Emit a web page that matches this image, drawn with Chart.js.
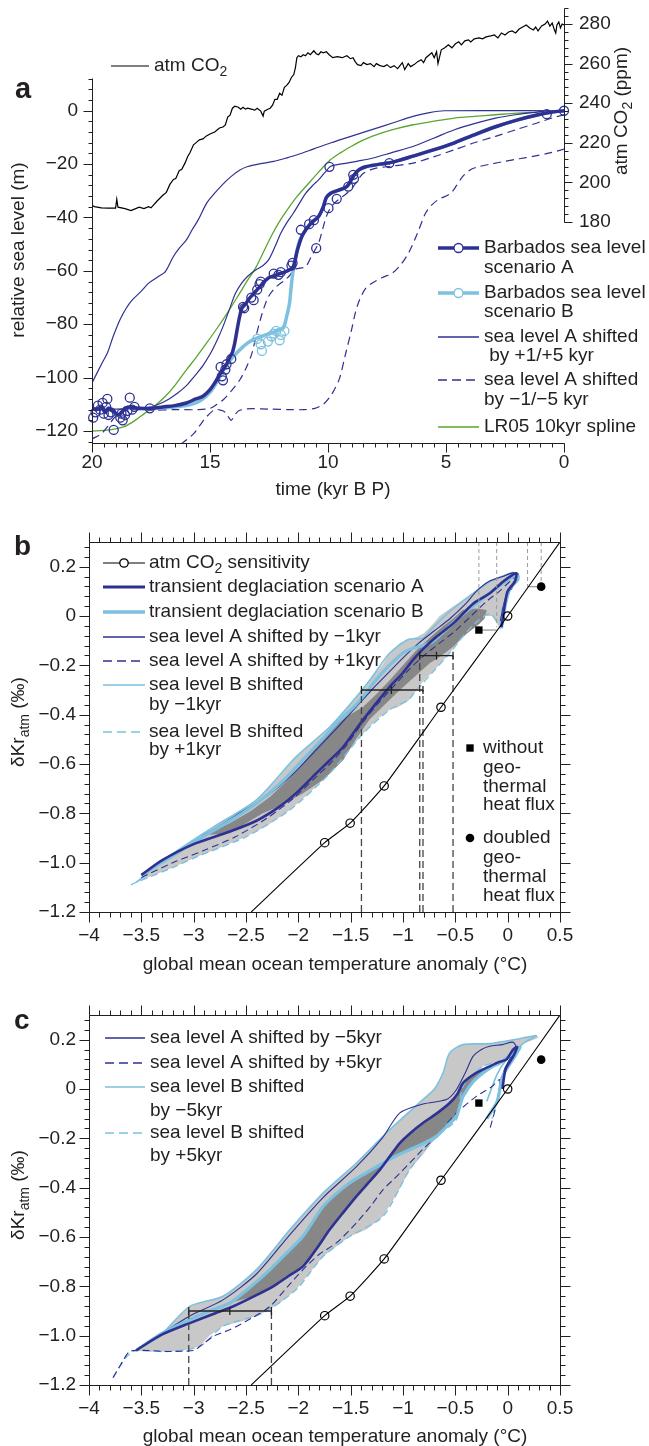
<!DOCTYPE html>
<html>
<head>
<meta charset="utf-8">
<script src="https://cdn.jsdelivr.net/npm/chart.js@4.4.1/dist/chart.umd.min.js"></script>
<style>
  html, body { margin: 0; padding: 0; background: #fff; }
  body { width: 649px; height: 1446px; position: relative; overflow: hidden; }
  canvas { position: absolute; left: 0; }
</style>
</head>
<body>
<canvas id="panelA" width="649" height="505" style="top:0px"></canvas>
<canvas id="panelB" width="649" height="470" style="top:505px"></canvas>
<canvas id="panelC" width="649" height="471" style="top:975px"></canvas>
<script>
// ---- tick values / labels ----
const timeTicks = [0, 5, 10, 15, 20];
const timeTickLabels = ['0', '5', '10', '15', '20'];
const seaTicks = [-120, -100, -80, -60, -40, -20, 0];
const seaTickLabels = ['−120', '−100', '−80', '−60', '−40', '−20', '0'];
const co2Ticks = [180, 200, 220, 240, 260, 280];
const co2TickLabels = ['180', '200', '220', '240', '260', '280'];
const tempTicks = [-4, -3.5, -3, -2.5, -2, -1.5, -1, -0.5, 0, 0.5];
const tempTickLabels = ['−4', '−3.5', '−3', '−2.5', '−2', '−1.5', '−1', '−0.5', '0', '0.5'];
const krTicks = [-1.2, -1.0, -0.8, -0.6, -0.4, -0.2, 0, 0.2];
const krTickLabels = ['−1.2', '−1.0', '−0.8', '−0.6', '−0.4', '−0.2', '0', '0.2'];

// ---- panel a: [kyr BP, value] ----
const co2Record = [[20,188.5],[19.9,187.8],[19.6,187.2],[19.3,187],[19.0,187],[18.95,191.5],[18.9,187.5],[18.6,186.8],[18.35,185.8],[18.2,186.5],[18.0,187.5],[17.8,186.8],[17.6,187.8],[17.5,187.2],[17.25,190.5],[17.0,193.5],[16.85,195],[16.7,199],[16.55,201.5],[16.45,202],[16.3,206],[16.2,206.5],[16.05,210],[15.95,213],[15.85,215],[15.7,219],[15.6,220],[15.45,221.5],[15.3,222],[15.15,223.5],[15.0,224.5],[14.8,225.5],[14.6,227.5],[14.45,228],[14.35,229],[14.25,233],[14.15,234],[14.05,237.5],[13.95,238.5],[13.8,238],[13.7,237],[13.6,238],[13.5,237],[13.4,237.5],[13.25,237],[13.1,236.5],[13.0,237.5],[12.85,236],[12.75,233.5],[12.7,236],[12.55,237],[12.45,237.5],[12.35,239],[12.25,242],[12.15,242],[12.05,245],[11.95,244],[11.85,248],[11.75,249],[11.65,250.5],[11.55,253],[11.45,254.5],[11.38,258],[11.32,263],[11.25,264],[11.15,263.5],[11.05,264.5],[10.95,264],[10.85,265.5],[10.75,264.5],[10.6,266.5],[10.5,265],[10.4,264.5],[10.3,266],[10.2,265.5],[10.07,266],[9.95,264.5],[9.8,263],[9.6,263.5],[9.4,263],[9.2,264],[9.05,262.5],[8.94,263],[8.85,261],[8.75,259.5],[8.6,259],[8.5,260.5],[8.35,259.5],[8.2,260],[8.05,258.5],[7.95,260],[7.8,259],[7.63,258.5],[7.5,259.5],[7.35,258],[7.2,259],[7.05,257.5],[6.95,259],[6.85,260.5],[6.75,257],[6.6,260],[6.5,258.5],[6.35,259.5],[6.2,261],[6.05,262],[5.95,260.5],[5.85,263],[5.7,264.5],[5.6,265.5],[5.5,263],[5.4,266],[5.34,260],[5.2,267],[5.05,268],[4.9,269.5],[4.75,268],[4.6,270],[4.46,271],[4.35,269.5],[4.2,271.5],[4.05,272],[3.95,271],[3.8,272.5],[3.6,273],[3.45,272.5],[3.3,273.5],[3.1,274],[2.95,274.5],[2.8,273],[2.65,275.5],[2.5,274.5],[2.35,276],[2.2,276.5],[2.05,275.5],[1.9,277.5],[1.75,278.5],[1.6,279.5],[1.45,278],[1.3,277],[1.2,278.5],[1.1,276.5],[0.95,279],[0.8,280],[0.7,281.5],[0.6,279],[0.5,280.5],[0.42,277.5],[0.35,275.5],[0.3,279.5],[0.22,281],[0.15,278],[0.08,280],[0.0,279.5]];

const seaLevelA = [[20,-111.5],[19.8,-112],[19.6,-111],[19.45,-113],[19.3,-111.5],[19.1,-112.5],[18.9,-114],[18.75,-113],[18.6,-111.5],[18.4,-111],[18,-111.5],[17.5,-111.5],[17,-111],[16.5,-110.5],[16,-109.5],[15.6,-108],[15.3,-107],[15,-104.5],[14.8,-102],[14.6,-99],[14.45,-97],[14.3,-95],[14.18,-92.7],[14.05,-90.5],[13.95,-87],[13.85,-82],[13.74,-77],[13.65,-74],[13.5,-72.5],[13.35,-70.5],[13.2,-69],[13,-67],[12.85,-65.5],[12.7,-64],[12.5,-62.5],[12.34,-62],[12.1,-61.2],[11.85,-60.5],[11.63,-59.6],[11.47,-58.4],[11.29,-52],[11.1,-47],[10.94,-44.6],[10.7,-42],[10.4,-39.6],[10.2,-36],[10.07,-32.5],[9.9,-31],[9.72,-30.3],[9.4,-29.3],[9.2,-28.4],[9.05,-26.5],[8.93,-24.6],[8.8,-23],[8.67,-22],[8.4,-21],[8.14,-20.5],[7.8,-20],[7.44,-19.6],[7,-18.6],[6.4,-17],[5.5,-14.6],[4.64,-12],[3.8,-9],[2.9,-6],[2,-3.5],[1.14,-1.6],[0.5,-0.5],[0,0]];

const seaLevelB = [[20,-111.5],[19.8,-112],[19.6,-111],[19.45,-113],[19.3,-111.5],[19.1,-112.5],[18.9,-114],[18.75,-113],[18.6,-111.5],[18.4,-111],[18,-111.5],[17.5,-111.5],[17,-111.3],[16.5,-111],[16,-110.5],[15.6,-109.5],[15.3,-108],[15,-105.5],[14.8,-103],[14.6,-100],[14.45,-97.5],[14.3,-95.5],[14.1,-93],[13.9,-91],[13.74,-89.6],[13.4,-87],[13.1,-85.5],[12.8,-84.5],[12.5,-83.5],[12.31,-83],[12.1,-82],[11.9,-81.5],[11.75,-77],[11.63,-72],[11.55,-65],[11.47,-59.6],[11.35,-54],[11.2,-48.5],[11,-45.5],[10.94,-44.6],[10.7,-42],[10.4,-39.6],[10.2,-36],[10.07,-32.5],[9.9,-31],[9.72,-30.3],[9.4,-29.3],[9.2,-28.4],[9.05,-26.5],[8.93,-24.6],[8.8,-23],[8.67,-22],[8.4,-21],[8.14,-20.5],[7.8,-20],[7.44,-19.6],[7,-18.6],[6.4,-17],[5.5,-14.6],[4.64,-12],[3.8,-9],[2.9,-6],[2,-3.5],[1.14,-1.6],[0.5,-0.5],[0,0]];

const barbadosA = [[19.95,-115],[19.85,-113],[19.75,-110.5],[19.65,-112],[19.55,-109.5],[19.5,-113.5],[19.4,-111],[19.35,-108],[19.3,-114],[19.2,-113],[19.08,-119.6],[18.8,-115],[18.75,-113.5],[18.7,-116],[18.6,-114],[18.5,-112.5],[18.4,-107.5],[18.3,-112],[18.2,-111],[17.55,-111.5],[14.55,-96],[14.5,-99.5],[14.45,-101],[14.35,-97],[14.3,-95],[14.1,-93],[13.6,-73.5],[13.55,-74],[13.25,-70],[13.15,-71],[13.0,-67],[12.9,-65],[12.85,-64],[12.3,-61],[12.1,-61.5],[12.0,-60.5],[11.55,-58],[11.5,-57],[11.15,-44.6],[10.8,-42.5],[10.6,-41],[10.5,-51.5],[9.98,-36.5],[9.63,-33],[9.94,-21],[9.14,-28.4],[8.93,-24],[8.9,-25.5],[7.4,-19.6],[0.73,-1.3],[0.0,0]];
const barbadosB = [[13.0,-85.5],[12.85,-87.5],[12.8,-90],[12.55,-86.5],[12.4,-84.5],[12.3,-83.5],[12.2,-82.5],[12.05,-86],[12.0,-84],[11.85,-82.5]];

const shiftPlus5 = [[20,-102],[19.6,-95],[19.35,-90.8],[19.1,-84.5],[18.82,-78.4],[18.55,-74],[18.3,-71],[17.9,-67.5],[17.6,-64.6],[17.2,-62.2],[16.9,-60.4],[16.55,-54.6],[16.3,-51.5],[16.0,-48.4],[15.75,-44.5],[15.5,-40.9],[15.14,-34.6],[14.8,-30.9],[14.45,-27.5],[14.1,-24.6],[13.75,-22.3],[13.4,-20.9],[12.9,-19.9],[12.3,-19],[11.8,-17.8],[11.3,-16.5],[10.6,-14.3],[9.9,-12.1],[9.0,-9.5],[8.14,-7.1],[7.2,-4.4],[6.4,-2.1],[5.7,-0.7],[5.08,0],[0,0]];
const shiftPlus1 = [[20,-112],[18,-111.5],[17.5,-111],[17.08,-109.6],[16.7,-107.8],[16.37,-105.8],[16.0,-103],[15.67,-99.6],[15.3,-95.5],[14.97,-90.8],[14.7,-86],[14.45,-80.9],[14.2,-75],[13.92,-68.4],[13.65,-64.5],[13.4,-62],[13.05,-59.6],[12.75,-58],[12.52,-55.9],[12.25,-51],[12.0,-45.9],[11.75,-42],[11.47,-38.4],[11.2,-34.5],[10.94,-30.9],[10.65,-28],[10.4,-25.9],[10.15,-23.3],[9.9,-20.9],[9.6,-20.2],[9.2,-19.6],[8.7,-18.8],[8.14,-17.8],[7.3,-15.7],[6.4,-13.4],[5.5,-10.2],[4.64,-7.1],[3.8,-4.8],[2.9,-2.75],[2.0,-1.4],[1.14,-0.5],[0.6,0],[0,0]];
const shiftMinus1 = [[20,-123],[19.6,-121],[19.35,-118.5],[19.1,-115.5],[18.8,-113],[18.4,-112],[17.5,-112.2],[16.5,-112],[15.5,-112],[15.0,-111.5],[14.7,-110],[14.45,-108.4],[14.1,-105],[13.74,-100.9],[13.45,-96],[13.22,-90.8],[13.05,-84.5],[12.87,-78.4],[12.7,-73.5],[12.52,-69.6],[12.2,-66],[11.82,-63.4],[11.6,-61.5],[11.47,-59.6],[11.2,-59],[10.94,-58.4],[10.7,-54.5],[10.4,-49.6],[10.2,-43.5],[10.07,-39.6],[9.9,-36.5],[9.72,-34.6],[9.45,-32.6],[9.2,-30.9],[8.93,-28.4],[8.7,-25.5],[8.5,-23.4],[8.0,-21.6],[7.44,-20.9],[6.4,-19.6],[5.5,-17.2],[4.64,-14.6],[3.8,-12],[2.9,-9.6],[2.0,-7],[1.14,-4.6],[0.5,-2.7],[0,-1.5]];
const shiftMinus5 = [[16.25,-125],[15.95,-123],[15.67,-120.8],[15.4,-117.5],[15.14,-114.6],[14.8,-112],[14.55,-112.2],[14.35,-113],[14.2,-115],[14.1,-116],[13.95,-114],[13.8,-112.5],[13.5,-111.8],[13.2,-111.6],[12.5,-111.8],[11.6,-112],[11.0,-112],[10.55,-111.5],[10.2,-110],[9.9,-107],[9.7,-104],[9.5,-100],[9.28,-92],[9.0,-82],[8.85,-76],[8.67,-71],[8.4,-66.5],[8.14,-64.6],[7.7,-62.5],[7.27,-60.8],[6.9,-57.5],[6.57,-53],[6.21,-45.9],[5.87,-38.4],[5.6,-35.3],[5.34,-33.4],[4.8,-30.9],[4.55,-28],[4.29,-24.6],[3.95,-22],[3.59,-20.9],[3.0,-19.8],[2.54,-19],[1.9,-18],[1.31,-17.1],[0.6,-15.8],[0,-14.4]];
const lr05Spline = [[20,-120],[19.5,-119.8],[19,-119.2],[18.64,-118.4],[18.2,-116.2],[17.77,-113.4],[17.3,-110.3],[16.9,-107.1],[16.45,-102.5],[16.0,-97.1],[15.57,-92.2],[15.14,-87],[14.7,-81.5],[14.27,-75.8],[13.84,-69.8],[13.4,-63.4],[13.05,-58.6],[12.7,-52.3],[12.34,-45.9],[12.0,-40.7],[11.63,-35.9],[11.3,-32],[10.94,-28.4],[10.4,-23],[9.9,-18.4],[9.46,-15.7],[9.02,-13.4],[8.58,-11.3],[8.14,-9.6],[7.3,-7.2],[6.4,-5.25],[5.5,-3.9],[4.64,-2.75],[3.8,-2.1],[2.9,-1.5],[2.0,-0.9],[1.14,-0.5],[0.5,-0.2],[0,0]];

// ---- panels b, c: [temperature anomaly °C, dKr permil] ----
const co2Sensitivity = [[-2.45,-1.2],[-1.748,-0.919],[-1.505,-0.84],[-1.18,-0.689],[-0.637,-0.37],[0,0],[0.5,0.3]];
const co2SensitivityMarked = [0, 1, 1, 1, 1, 1, 0];
const noGeothermal = [[-0.275,-0.057]];
const doubledGeothermal = [[0.32,0.119]];

const bEnvelope = [[-3.55,-1.08],[-3.45,-1.04],[-3.29,-0.99],[-3.05,-0.92],[-2.81,-0.855],[-2.6,-0.8],[-2.4,-0.745],[-2.2,-0.66],[-2.02,-0.57],[-1.85,-0.505],[-1.7,-0.45],[-1.55,-0.38],[-1.45,-0.33],[-1.38,-0.3],[-1.3,-0.25],[-1.2,-0.2],[-1.127,-0.15],[-1.03,-0.11],[-0.95,-0.095],[-0.87,-0.085],[-0.8,-0.07],[-0.72,-0.035],[-0.65,0],[-0.55,0.03],[-0.43,0.065],[-0.3,0.105],[-0.17,0.146],[-0.05,0.165],[0.05,0.18],[0.1,0.175],[0.12,0.16],[0.06,0.13],[0,0.1],[-0.03,0.05],[-0.05,-0.01],[-0.07,-0.055],[-0.09,-0.04],[-0.15,0],[-0.22,0],[-0.3,-0.025],[-0.43,-0.084],[-0.554,-0.151],[-0.7,-0.22],[-0.8,-0.26],[-0.87,-0.3],[-0.95,-0.345],[-1.05,-0.37],[-1.127,-0.38],[-1.25,-0.42],[-1.38,-0.476],[-1.55,-0.56],[-1.7,-0.638],[-1.9,-0.72],[-2.08,-0.786],[-2.3,-0.85],[-2.5,-0.895],[-2.75,-0.94],[-2.97,-0.976],[-3.2,-1.02],[-3.42,-1.057],[-3.55,-1.08]];
const bInner = [[-2.95,-0.89],[-2.655,-0.84],[-2.45,-0.79],[-2.27,-0.733],[-2.1,-0.665],[-1.955,-0.597],[-1.82,-0.525],[-1.7,-0.462],[-1.55,-0.41],[-1.38,-0.368],[-1.25,-0.315],[-1.127,-0.26],[-1.0,-0.2],[-0.87,-0.138],[-0.75,-0.09],[-0.62,-0.043],[-0.52,-0.01],[-0.43,0.024],[-0.3,0.03],[-0.2,0.024],[-0.22,-0.01],[-0.267,-0.03],[-0.4,-0.075],[-0.52,-0.124],[-0.63,-0.16],[-0.745,-0.192],[-0.9,-0.25],[-1.063,-0.313],[-1.2,-0.37],[-1.32,-0.42],[-1.45,-0.5],[-1.57,-0.584],[-1.75,-0.66],[-1.955,-0.719],[-2.15,-0.765],[-2.34,-0.8],[-2.5,-0.84],[-2.655,-0.881],[-2.95,-0.89]];
const bScenarioA = [[-3.5,-1.05],[-3.3,-0.99],[-3.0,-0.925],[-2.655,-0.874],[-2.4,-0.83],[-2.18,-0.773],[-2.0,-0.71],[-1.83,-0.638],[-1.7,-0.585],[-1.57,-0.53],[-1.45,-0.46],[-1.38,-0.42],[-1.25,-0.35],[-1.127,-0.287],[-1.0,-0.23],[-0.905,-0.178],[-0.8,-0.13],[-0.68,-0.084],[-0.52,-0.03],[-0.33,0.05],[-0.17,0.092],[-0.045,0.139],[0.04,0.165],[0.083,0.173],[0.07,0.14],[0,0.1],[-0.03,0.04],[-0.05,-0.02],[-0.06,-0.045]];
const bScenarioB = [[-3.5,-1.05],[-3.25,-0.985],[-2.95,-0.905],[-2.65,-0.83],[-2.4,-0.76],[-2.15,-0.67],[-1.95,-0.58],[-1.75,-0.49],[-1.6,-0.42],[-1.45,-0.36],[-1.35,-0.31],[-1.25,-0.255],[-1.13,-0.2],[-1.0,-0.15],[-0.9,-0.13],[-0.81,-0.12],[-0.72,-0.105],[-0.6,-0.06],[-0.45,0],[-0.3,0.05],[-0.15,0.1],[-0.02,0.14],[0.08,0.165],[0.1,0.15],[0.02,0.11],[-0.02,0.05],[-0.04,0],[-0.06,-0.05]];
const bAMinus1 = [[-3.5,-1.05],[-3.2,-0.97],[-2.9,-0.89],[-2.6,-0.81],[-2.3,-0.73],[-2.05,-0.64],[-1.8,-0.53],[-1.6,-0.44],[-1.45,-0.37],[-1.3,-0.3],[-1.15,-0.235],[-1.0,-0.17],[-0.85,-0.11],[-0.7,-0.06],[-0.55,-0.01],[-0.4,0.05],[-0.3,0.1],[-0.18,0.14],[-0.05,0.16],[0.05,0.175],[0.1,0.17],[0.03,0.12],[-0.03,0.06],[-0.07,-0.02]];
const bAPlus1 = [[-3.5,-1.06],[-3.2,-1.0],[-2.9,-0.95],[-2.6,-0.895],[-2.3,-0.82],[-2.05,-0.74],[-1.85,-0.66],[-1.7,-0.6],[-1.55,-0.53],[-1.4,-0.44],[-1.25,-0.36],[-1.1,-0.29],[-0.95,-0.22],[-0.8,-0.16],[-0.65,-0.11],[-0.5,-0.06],[-0.35,0],[-0.2,0.06],[-0.08,0.1],[0.02,0.14],[0.08,0.16],[0.05,0.12],[-0.02,0.06],[-0.05,-0.03]];
const bBMinus1 = [[-3.55,-1.08],[-3.29,-0.99],[-2.81,-0.855],[-2.4,-0.745],[-2.02,-0.57],[-1.7,-0.45],[-1.45,-0.33],[-1.3,-0.25],[-1.127,-0.15],[-0.95,-0.095],[-0.81,-0.09],[-0.72,-0.05],[-0.55,0.02],[-0.43,0.06],[-0.3,0.1],[-0.17,0.14],[-0.05,0.16],[0.05,0.175],[0.1,0.17],[0.06,0.13],[0,0.09],[-0.04,0.02],[-0.07,-0.05]];
const bBPlus1 = [[-3.6,-1.09],[-3.55,-1.08],[-3.2,-1.02],[-2.97,-0.976],[-2.5,-0.895],[-2.08,-0.786],[-1.7,-0.638],[-1.38,-0.476],[-1.127,-0.38],[-0.95,-0.34],[-0.87,-0.3],[-0.7,-0.22],[-0.554,-0.151],[-0.43,-0.084],[-0.3,-0.025],[-0.17,0.01],[-0.08,-0.03],[-0.06,0.02],[0,0.08],[0.08,0.15],[0.12,0.16]];
const bErrorBars = [[-0.30,-1.397,-1.111,-0.809],[-0.161,-0.84,-0.68,-0.522]];
const bDropLines = [[-1.397,-0.30],[-0.809,-0.30],[-0.84,-0.161],[-0.522,-0.161]];
const bGuideDrops = [[-0.275,-0.057],[-0.105,-0.045],[0.19,0.119],[0.32,0.119]];
const bGuideLinks = [[-0.275,-0.105,-0.057],[0.19,0.32,0.119]];

const cEnvelope = [[-3.55,-1.06],[-3.515,-1.05],[-3.3,-0.99],[-3.037,-0.881],[-2.9,-0.86],[-2.72,-0.84],[-2.55,-0.79],[-2.4,-0.732],[-2.24,-0.65],[-2.08,-0.57],[-1.92,-0.495],[-1.764,-0.422],[-1.6,-0.36],[-1.445,-0.3],[-1.28,-0.23],[-1.127,-0.165],[-0.97,-0.1],[-0.81,-0.043],[-0.7,0],[-0.618,0.065],[-0.554,0.146],[-0.427,0.18],[-0.3,0.185],[-0.172,0.184],[0,0.195],[0.146,0.207],[0.274,0.216],[0.3,0.21],[0.25,0.2],[0.146,0.184],[0.06,0.15],[-0.013,0.119],[-0.1,0.11],[-0.236,0.092],[-0.35,0.05],[-0.427,0.01],[-0.49,-0.124],[-0.68,-0.192],[-0.8,-0.26],[-0.936,-0.327],[-1.05,-0.42],[-1.19,-0.516],[-1.35,-0.57],[-1.51,-0.598],[-1.764,-0.679],[-1.9,-0.75],[-2.02,-0.813],[-2.18,-0.87],[-2.34,-0.908],[-2.52,-0.94],[-2.72,-0.962],[-2.85,-1.0],[-2.94,-1.043],[-3.1,-1.06],[-3.26,-1.064],[-3.45,-1.065],[-3.55,-1.06]];
const cScenarioA = [[-3.55,-1.06],[-3.515,-1.05],[-3.3,-0.995],[-3.037,-0.949],[-2.8,-0.91],[-2.62,-0.881],[-2.42,-0.84],[-2.24,-0.8],[-2.1,-0.76],[-1.955,-0.719],[-1.83,-0.65],[-1.7,-0.57],[-1.57,-0.5],[-1.445,-0.435],[-1.33,-0.38],[-1.22,-0.327],[-1.12,-0.27],[-1.03,-0.219],[-0.92,-0.175],[-0.81,-0.138],[-0.68,-0.1],[-0.554,-0.057],[-0.48,-0.02],[-0.427,0.024],[-0.3,0.065],[-0.172,0.092],[-0.08,0.11],[-0.013,0.119],[0.05,0.159],[0.09,0.17],[0.05,0.13],[-0.02,0.08],[-0.05,0]];
const cScenarioB = [[-3.55,-1.06],[-3.3,-0.99],[-3.037,-0.935],[-2.85,-0.9],[-2.65,-0.867],[-2.45,-0.8],[-2.27,-0.732],[-2.1,-0.66],[-1.955,-0.597],[-1.85,-0.53],[-1.764,-0.476],[-1.64,-0.425],[-1.51,-0.381],[-1.35,-0.34],[-1.19,-0.3],[-1.06,-0.27],[-0.936,-0.246],[-0.8,-0.22],[-0.68,-0.192],[-0.58,-0.15],[-0.49,-0.111],[-0.45,-0.06],[-0.427,-0.03],[-0.33,0.03],[-0.236,0.065],[-0.15,0.09],[-0.076,0.105],[0.05,0.146],[0.12,0.17],[0.05,0.12],[-0.05,0.05],[-0.1,-0.05],[-0.2,-0.12]];
const cInner = [[-2.65,-0.867],[-2.45,-0.8],[-2.27,-0.732],[-2.1,-0.66],[-1.955,-0.597],[-1.85,-0.53],[-1.764,-0.476],[-1.64,-0.425],[-1.51,-0.381],[-1.35,-0.34],[-1.19,-0.3],[-1.06,-0.27],[-0.936,-0.246],[-0.8,-0.22],[-0.68,-0.192],[-0.58,-0.15],[-0.49,-0.111],[-0.45,-0.06],[-0.427,-0.03],[-0.33,0.03],[-0.236,0.065],[-0.15,0.09],[-0.172,0.092],[-0.3,0.065],[-0.427,0.024],[-0.48,-0.02],[-0.554,-0.057],[-0.68,-0.1],[-0.81,-0.138],[-0.92,-0.175],[-1.03,-0.219],[-1.12,-0.27],[-1.22,-0.327],[-1.33,-0.38],[-1.445,-0.435],[-1.57,-0.5],[-1.7,-0.57],[-1.83,-0.65],[-1.955,-0.719],[-2.1,-0.76],[-2.24,-0.8],[-2.42,-0.84],[-2.65,-0.867]];
const cAMinus5 = [[-3.55,-1.06],[-3.3,-0.99],[-3.037,-0.92],[-2.72,-0.855],[-2.4,-0.75],[-2.08,-0.59],[-1.764,-0.44],[-1.445,-0.315],[-1.2,-0.2],[-1.03,-0.097],[-0.8,-0.06],[-0.586,-0.043],[-0.49,-0.003],[-0.4,0.07],[-0.331,0.132],[-0.25,0.16],[-0.172,0.173],[-0.05,0.18],[0.05,0.19],[0.08,0.17],[0.03,0.13],[-0.03,0.08],[-0.08,0]];
const cAPlus5 = [[-3.77,-1.17],[-3.7,-1.12],[-3.61,-1.064],[-3.45,-1.06],[-3.26,-1.064],[-3.0,-1.06],[-2.94,-1.043],[-2.8,-1.0],[-2.655,-0.976],[-2.45,-0.93],[-2.27,-0.881],[-2.1,-0.8],[-1.955,-0.732],[-1.8,-0.67],[-1.636,-0.624],[-1.445,-0.543],[-1.3,-0.47],[-1.19,-0.408],[-1.05,-0.35],[-0.936,-0.3],[-0.8,-0.24],[-0.68,-0.192],[-0.58,-0.14],[-0.49,-0.097],[-0.3,-0.03],[-0.15,0.01],[-0.076,0.038],[-0.1,-0.05],[-0.172,-0.165]];
const cBMinus5 = [[-3.55,-1.06],[-3.3,-0.99],[-3.037,-0.881],[-2.72,-0.84],[-2.4,-0.732],[-2.08,-0.57],[-1.764,-0.422],[-1.445,-0.3],[-1.127,-0.165],[-0.81,-0.043],[-0.7,0],[-0.618,0.065],[-0.554,0.146],[-0.427,0.18],[-0.172,0.184],[0.146,0.207],[0.274,0.216],[0.146,0.184],[-0.013,0.119],[-0.1,0.06],[-0.2,-0.05]];
const cBPlus5 = [[-3.77,-1.17],[-3.65,-1.09],[-3.55,-1.06],[-3.26,-1.064],[-2.94,-1.043],[-2.72,-0.962],[-2.34,-0.908],[-2.02,-0.813],[-1.764,-0.679],[-1.51,-0.598],[-1.19,-0.516],[-0.936,-0.327],[-0.68,-0.192],[-0.49,-0.124],[-0.427,0.01],[-0.236,0.092],[-0.013,0.119],[0.1,0.16],[0.0,0.1],[-0.15,-0.12]];
const cErrorBars = [[-0.9,-3.047,-2.655,-2.257]];
const cDropLines = [[-3.047,-0.9],[-2.257,-0.9]];

// ---- styling ----
const FAMILY = '"Liberation Sans", Arial, Helvetica, sans-serif';
const INK = '#231f20';
const DARK = '#2e3192';
const LIGHT = '#7cc1df';
const GREEN = '#5aa532';
const GRAY_L = '#c8c8c8';
const GRAY_D = '#878787';

Chart.defaults.font.family = FAMILY;
Chart.defaults.font.size = 19;
Chart.defaults.color = INK;

const xy = arr => arr.map(p => ({ x: p[0], y: p[1] }));
const fmt = (vals, labels) => v => labels[vals.findIndex(t => Math.abs(t - v) < 1e-9)];
const setTicks = vals => s => { s.ticks = vals.map(v => ({ value: v })); };
// fix the axis box size and drop the label overhang padding so the plot area is where we ask
const fixWidth = w => s => { s.width = w; s.paddingTop = 0; s.paddingBottom = 0; };
const fixHeight = h => s => { s.height = h; s.paddingLeft = 0; s.paddingRight = 0; };

function line(data, color, width, extra) {
  return Object.assign({
    data: xy(data), borderColor: color, borderWidth: width,
    pointRadius: 0, fill: false, tension: 0, clip: 0
  }, extra || {});
}
function shape(data, color, order) {
  return { data: xy(data), borderWidth: 0, borderColor: 'transparent', backgroundColor: color,
           fill: 'shape', pointRadius: 0, tension: 0, order: order };
}

// ---- drawing helpers for axes, titles, legends ----
function range(start, end, step) {
  const out = [];
  const n = Math.round((end - start) / step);
  for (let i = 0; i <= n; i++) out.push(start + i * step);
  return out;
}

function drawAxis(chart, ax) {
  const ctx = chart.ctx, area = chart.chartArea, s = chart.scales[ax.scale];
  const horiz = ax.side === 'bottom' || ax.side === 'top';
  const base = Math.round(area[ax.side]) + 0.5;
  const dir = (ax.side === 'bottom' || ax.side === 'right') ? 1 : -1;
  const px = v => Math.round(s.getPixelForValue(v)) + 0.5;
  ctx.beginPath();
  if (horiz) { ctx.moveTo(px(ax.from), base); ctx.lineTo(px(ax.to), base); }
  else { ctx.moveTo(base, px(ax.from)); ctx.lineTo(base, px(ax.to)); }
  const tick = (v, len) => {
    const p = px(v);
    if (horiz) { ctx.moveTo(p, base); ctx.lineTo(p, base + dir * len); }
    else { ctx.moveTo(base, p); ctx.lineTo(base + dir * len, p); }
  };
  range(ax.minor[0], ax.minor[1], ax.minor[2]).forEach(v => tick(v, ax.minorLen));
  ax.major.forEach(v => tick(v, ax.majorLen));
  ctx.stroke();
}

function parseRich(str) {
  const parts = [], re = /_\{([^}]*)\}/g;
  let last = 0, m;
  while ((m = re.exec(str))) {
    if (m.index > last) parts.push({ t: str.slice(last, m.index) });
    parts.push({ t: m[1], sub: true });
    last = re.lastIndex;
  }
  if (last < str.length) parts.push({ t: str.slice(last) });
  return parts;
}

function drawRich(ctx, str, x, y, opt) {
  opt = opt || {};
  const size = opt.size || 19;
  const main = (opt.bold ? 'bold ' : '') + size + 'px ' + FAMILY;
  const sub = Math.round(size * 0.72) + 'px ' + FAMILY;
  const parts = parseRich(str);
  let total = 0;
  parts.forEach(p => { ctx.font = p.sub ? sub : main; p.w = ctx.measureText(p.t).width; total += p.w; });
  ctx.save();
  ctx.translate(x, y);
  if (opt.rot) ctx.rotate(-Math.PI / 2);
  let cx = opt.align === 'left' ? 0 : -total / 2;
  ctx.textAlign = 'left';
  ctx.textBaseline = opt.base || 'middle';
  ctx.fillStyle = INK;
  parts.forEach(p => {
    ctx.font = p.sub ? sub : main;
    ctx.fillText(p.t, cx, p.sub ? size * 0.32 : 0);
    cx += p.w;
  });
  ctx.restore();
}

function drawMarker(ctx, m, x, y) {
  ctx.save();
  ctx.beginPath();
  if (m.style === 'rect') { const h = m.r * Math.SQRT1_2; ctx.rect(x - h, y - h, 2 * h, 2 * h); }
  else ctx.arc(x, y, m.r, 0, Math.PI * 2);
  if (m.fill) { ctx.fillStyle = m.fill; ctx.fill(); }
  if (m.stroke) { ctx.strokeStyle = m.stroke; ctx.lineWidth = 1.3; ctx.stroke(); }
  ctx.restore();
}

function drawLegend(ctx, item) {
  const s = item.sample;
  const y = item.ys[0];
  if (s.color) {
    ctx.save();
    ctx.strokeStyle = s.color; ctx.lineWidth = s.width;
    ctx.setLineDash(s.dash || []);
    ctx.beginPath(); ctx.moveTo(item.x0, y); ctx.lineTo(item.x1, y); ctx.stroke();
    ctx.restore();
  }
  if (s.marker) drawMarker(ctx, s.marker, item.cx != null ? item.cx : (item.x0 + item.x1) / 2, y);
  item.lines.forEach((t, i) => drawRich(ctx, t, item.tx, item.ys[i], { align: 'left' }));
}

function decor(cfg) {
  return {
    id: 'decor',
    afterDraw(chart) {
      const ctx = chart.ctx;
      ctx.save();
      ctx.strokeStyle = INK; ctx.lineWidth = 1;
      cfg.axes.forEach(ax => drawAxis(chart, ax));
      cfg.texts.forEach(t => drawRich(ctx, t.t, t.x, t.y, t));
      cfg.legend.forEach(item => drawLegend(ctx, item));
      ctx.restore();
    }
  };
}

function baseOptions(top, right) {
  return {
    responsive: false, animation: false, events: [], devicePixelRatio: 1,
    layout: { padding: { top: top, right: right, left: 0, bottom: 0 } },
    plugins: { legend: { display: false }, tooltip: { enabled: false } }
  };
}
const hiddenGrid = { grid: { display: false, drawTicks: false }, border: { display: false } };

// ================= panel a =================
const optsA = baseOptions(8, 0);
optsA.scales = {
  x: Object.assign({
    type: 'linear', reverse: true, min: 0, max: 20,
    afterBuildTicks: setTicks(timeTicks),
    ticks: { callback: fmt(timeTicks, timeTickLabels), padding: 8, maxRotation: 0, autoSkip: false },
    afterFit: fixHeight(62)
  }, hiddenGrid),
  y: Object.assign({
    type: 'linear', position: 'left', min: -124.5, max: 38.5,
    afterBuildTicks: setTicks(seaTicks),
    ticks: { callback: fmt(seaTicks, seaTickLabels), padding: 14, autoSkip: false },
    afterFit: fixWidth(92)
  }, hiddenGrid),
  y2: Object.assign({
    type: 'linear', position: 'right', min: 68.4, max: 288.1,
    afterBuildTicks: setTicks(co2Ticks),
    ticks: { callback: fmt(co2Ticks, co2TickLabels), padding: 15, autoSkip: false },
    afterFit: fixWidth(85)
  }, hiddenGrid)
};

new Chart(document.getElementById('panelA'), {
  type: 'line',
  data: {
    datasets: [
      line(barbadosA, DARK, 0, { showLine: false, pointRadius: 4.5, pointBorderWidth: 1.3,
        pointBorderColor: DARK, pointBackgroundColor: 'rgba(0,0,0,0)', clip: 8, order: 1 }),
      line(seaLevelA, DARK, 3.5, { tension: 0.3, order: 2 }),
      line(barbadosB, LIGHT, 0, { showLine: false, pointRadius: 4.5, pointBorderWidth: 1.3,
        pointBorderColor: LIGHT, pointBackgroundColor: 'rgba(0,0,0,0)', order: 3 }),
      line(seaLevelB, LIGHT, 3.5, { tension: 0.3, order: 4 }),
      line(shiftPlus1, DARK, 1.2, { tension: 0.3, order: 5 }),
      line(shiftPlus5, DARK, 1.2, { tension: 0.3, order: 6 }),
      line(shiftMinus1, DARK, 1.2, { tension: 0.3, borderDash: [8, 5], order: 7 }),
      line(shiftMinus5, DARK, 1.2, { tension: 0.3, borderDash: [8, 5], order: 8 }),
      line(lr05Spline, GREEN, 1.3, { tension: 0.3, order: 9 }),
      line(co2Record, '#000', 1.2, { yAxisID: 'y2', order: 10 })
    ]
  },
  options: optsA,
  plugins: [decor({
    axes: [
      { scale: 'x', side: 'bottom', from: 20, to: 0, major: timeTicks, majorLen: 9, minor: [0, 20, 0.5], minorLen: 4 },
      { scale: 'y', side: 'left', from: -124.5, to: 12.25, major: seaTicks, majorLen: 9, minor: [-124, 12, 4], minorLen: 4 },
      { scale: 'y2', side: 'right', from: 180, to: 288.1, major: co2Ticks, majorLen: 8, minor: [180, 288, 4], minorLen: 4 }
    ],
    texts: [
      { t: 'a', x: 15, y: 98, size: 29, bold: true, align: 'left', base: 'alphabetic' },
      { t: 'relative sea level (m)', x: 19, y: 250, rot: true },
      { t: 'atm CO_{2} (ppm)', x: 622, y: 111, rot: true },
      { t: 'time (kyr B P)', x: 333, y: 490 }
    ],
    legend: [
      { x0: 111, x1: 149, tx: 154, ys: [66], lines: ['atm CO_{2}'], sample: { color: '#000', width: 1.2 } },
      { x0: 438, x1: 479, tx: 484, ys: [248, 268], lines: ['Barbados sea level', 'scenario A'],
        sample: { color: DARK, width: 3.5, marker: { r: 4.5, stroke: DARK, fill: '#fff' } } },
      { x0: 438, x1: 479, tx: 484, ys: [293, 312], lines: ['Barbados sea level', 'scenario B'],
        sample: { color: LIGHT, width: 3.5, marker: { r: 4.5, stroke: LIGHT, fill: '#fff' } } },
      { x0: 438, x1: 479, tx: 484, ys: [337, 356], lines: ['sea level A shifted', ' by +1/+5 kyr'],
        sample: { color: DARK, width: 1.3 } },
      { x0: 438, x1: 479, tx: 484, ys: [380, 400], lines: ['sea level A shifted', 'by −1/−5 kyr'],
        sample: { color: DARK, width: 1.3, dash: [9, 5] } },
      { x0: 438, x1: 479, tx: 484, ys: [427], lines: ['LR05 10kyr spline'], sample: { color: GREEN, width: 1.3 } }
    ]
  })]
});

// ================= panels b and c =================
function kryptonScales(bottomHeight) {
  return {
    x: Object.assign({
      type: 'linear', min: -4, max: 0.5,
      afterBuildTicks: setTicks(tempTicks),
      ticks: { callback: fmt(tempTicks, tempTickLabels), padding: 12, maxRotation: 0, autoSkip: false },
      afterFit: fixHeight(bottomHeight)
    }, hiddenGrid),
    y: Object.assign({
      type: 'linear', position: 'left', min: -1.2, max: 0.3,
      afterBuildTicks: setTicks(krTicks),
      ticks: { callback: fmt(krTicks, krTickLabels), padding: 13, autoSkip: false },
      afterFit: fixWidth(89)
    }, hiddenGrid)
  };
}
const frameAxes = [
  { scale: 'x', side: 'bottom', from: -4, to: 0.5, major: tempTicks, majorLen: 10, minor: [-4, 0.5, 0.1], minorLen: 5 },
  { scale: 'x', side: 'top', from: -4, to: 0.5, major: tempTicks, majorLen: 10, minor: [-4, 0.5, 0.1], minorLen: 5 },
  { scale: 'y', side: 'left', from: -1.2, to: 0.3, major: krTicks, majorLen: 10, minor: [-1.2, 0.28, 0.04], minorLen: 5 },
  { scale: 'y', side: 'right', from: -1.2, to: 0.3, major: krTicks, majorLen: 10, minor: [-1.2, 0.28, 0.04], minorLen: 5 }
];

function sensitivityDatasets() {
  return [
    line(noGeothermal, INK, 0, { showLine: false, pointStyle: 'rect', pointRadius: 5.2,
      pointBackgroundColor: '#000', pointBorderColor: '#000', pointBorderWidth: 0, clip: 8, order: 1 }),
    line(doubledGeothermal, INK, 0, { showLine: false, pointRadius: 4.3,
      pointBackgroundColor: '#000', pointBorderColor: '#000', pointBorderWidth: 0, clip: 8, order: 1 }),
    line(co2Sensitivity, '#000', 1.1, { tension: 0.15, pointRadius: co2SensitivityMarked.map(m => m ? 4.2 : 0),
      pointBorderColor: '#000', pointBorderWidth: 1.2, pointBackgroundColor: 'rgba(0,0,0,0)', order: 2 })
  ];
}
function errorBarDatasets(bars, drops) {
  const out = [];
  bars.forEach(b => out.push(line([[b[1], b[0]], [b[2], b[0]], [b[3], b[0]]], '#222', 1.3,
    { pointStyle: 'line', rotation: 90, pointRadius: 4, pointBorderColor: '#222', pointBorderWidth: 1.3, order: 3 })));
  drops.forEach(d => out.push(line([[d[0], -1.2], [d[0], d[1]]], '#444', 1.3, { borderDash: [7, 4], order: 4 })));
  return out;
}

// ---- panel b ----
const optsB = baseOptions(37, 89);
optsB.scales = kryptonScales(63);
const guideB = [];
bGuideDrops.forEach(d => guideB.push(line([[d[0], 0.3], [d[0], d[1]]], '#9a9a9a', 1, { borderDash: [4, 3], order: 5 })));
bGuideLinks.forEach(g => guideB.push(line([[g[0], g[2]], [g[1], g[2]]], '#9a9a9a', 1.3, { order: 5 })));

new Chart(document.getElementById('panelB'), {
  type: 'line',
  data: {
    datasets: [].concat(
      sensitivityDatasets(),
      errorBarDatasets(bErrorBars, bDropLines),
      guideB,
      [
        line(bScenarioA, DARK, 2.6, { tension: 0.25, order: 7 }),
        line(bScenarioB, LIGHT, 3.2, { tension: 0.25, order: 8 }),
        line(bAMinus1, DARK, 1.1, { tension: 0.25, order: 9 }),
        line(bAPlus1, DARK, 1.1, { tension: 0.25, borderDash: [7, 4], order: 10 }),
        line(bBMinus1, LIGHT, 1.6, { tension: 0.25, order: 11 }),
        line(bBPlus1, LIGHT, 1.4, { tension: 0.25, borderDash: [7, 4], order: 12 }),
        shape(bInner, GRAY_D, 19),
        shape(bEnvelope, GRAY_L, 20)
      ]
    )
  },
  options: optsB,
  plugins: [decor({
    axes: frameAxes,
    texts: [
      { t: 'b', x: 14, y: 50, size: 28, bold: true, align: 'left', base: 'alphabetic' },
      { t: 'δKr_{atm} (‰)', x: 19, y: 217, rot: true },
      { t: 'global mean ocean temperature anomaly (°C)', x: 335, y: 460 }
    ],
    legend: [
      { x0: 103, x1: 145, tx: 149, ys: [58], lines: ['atm CO_{2} sensitivity'],
        sample: { color: '#000', width: 1.1, marker: { r: 4.2, stroke: '#000', fill: '#fff' } } },
      { x0: 103, x1: 145, tx: 149, ys: [82], lines: ['transient deglaciation scenario A'], sample: { color: DARK, width: 3 } },
      { x0: 103, x1: 145, tx: 149, ys: [107], lines: ['transient deglaciation scenario B'], sample: { color: LIGHT, width: 3.5 } },
      { x0: 103, x1: 145, tx: 149, ys: [132], lines: ['sea level A shifted by −1kyr'], sample: { color: DARK, width: 1.3 } },
      { x0: 103, x1: 145, tx: 149, ys: [156], lines: ['sea level A shifted by +1kyr'], sample: { color: DARK, width: 1.3, dash: [9, 5] } },
      { x0: 103, x1: 145, tx: 149, ys: [180, 200], lines: ['sea level B shifted', 'by −1kyr'], sample: { color: LIGHT, width: 1.6 } },
      { x0: 103, x1: 145, tx: 149, ys: [227, 245], lines: ['sea level B shifted', 'by +1kyr'], sample: { color: LIGHT, width: 1.6, dash: [9, 5] } },
      { cx: 470, tx: 483, ys: [243, 263, 282, 300], lines: ['without', 'geo-', 'thermal', 'heat flux'],
        sample: { marker: { r: 5.2, style: 'rect', fill: '#000' } } },
      { cx: 470, tx: 483, ys: [333, 353, 372, 391], lines: ['doubled', 'geo-', 'thermal', 'heat flux'],
        sample: { marker: { r: 4.3, fill: '#000' } } }
    ]
  })]
});

// ---- panel c ----
const optsC = baseOptions(40, 89);
optsC.scales = kryptonScales(61);

new Chart(document.getElementById('panelC'), {
  type: 'line',
  data: {
    datasets: [].concat(
      sensitivityDatasets(),
      errorBarDatasets(cErrorBars, cDropLines),
      [
        line(cScenarioA, DARK, 2.6, { tension: 0.25, order: 7 }),
        line(cScenarioB, LIGHT, 3.2, { tension: 0.25, order: 8 }),
        line(cAMinus5, DARK, 1.1, { tension: 0.25, order: 9 }),
        line(cAPlus5, DARK, 1.1, { tension: 0.25, borderDash: [7, 4], order: 10 }),
        line(cBMinus5, LIGHT, 1.6, { tension: 0.25, order: 11 }),
        line(cBPlus5, LIGHT, 1.4, { tension: 0.25, borderDash: [7, 4], order: 12 }),
        shape(cInner, GRAY_D, 19),
        shape(cEnvelope, GRAY_L, 20)
      ]
    )
  },
  options: optsC,
  plugins: [decor({
    axes: frameAxes,
    texts: [
      { t: 'c', x: 14, y: 54, size: 28, bold: true, align: 'left', base: 'alphabetic' },
      { t: 'δKr_{atm} (‰)', x: 19, y: 220, rot: true },
      { t: 'global mean ocean temperature anomaly (°C)', x: 335, y: 462 }
    ],
    legend: [
      { x0: 105, x1: 145, tx: 150, ys: [63], lines: ['sea level A shifted by −5kyr'], sample: { color: DARK, width: 1.3 } },
      { x0: 105, x1: 145, tx: 150, ys: [88], lines: ['sea level A shifted by +5kyr'], sample: { color: DARK, width: 1.3, dash: [9, 5] } },
      { x0: 105, x1: 145, tx: 150, ys: [112, 136], lines: ['sea level B shifted', 'by −5kyr'], sample: { color: LIGHT, width: 1.6 } },
      { x0: 105, x1: 145, tx: 150, ys: [158, 181], lines: ['sea level B shifted', 'by +5kyr'], sample: { color: LIGHT, width: 1.6, dash: [9, 5] } }
    ]
  })]
});
</script>
</body>
</html>
